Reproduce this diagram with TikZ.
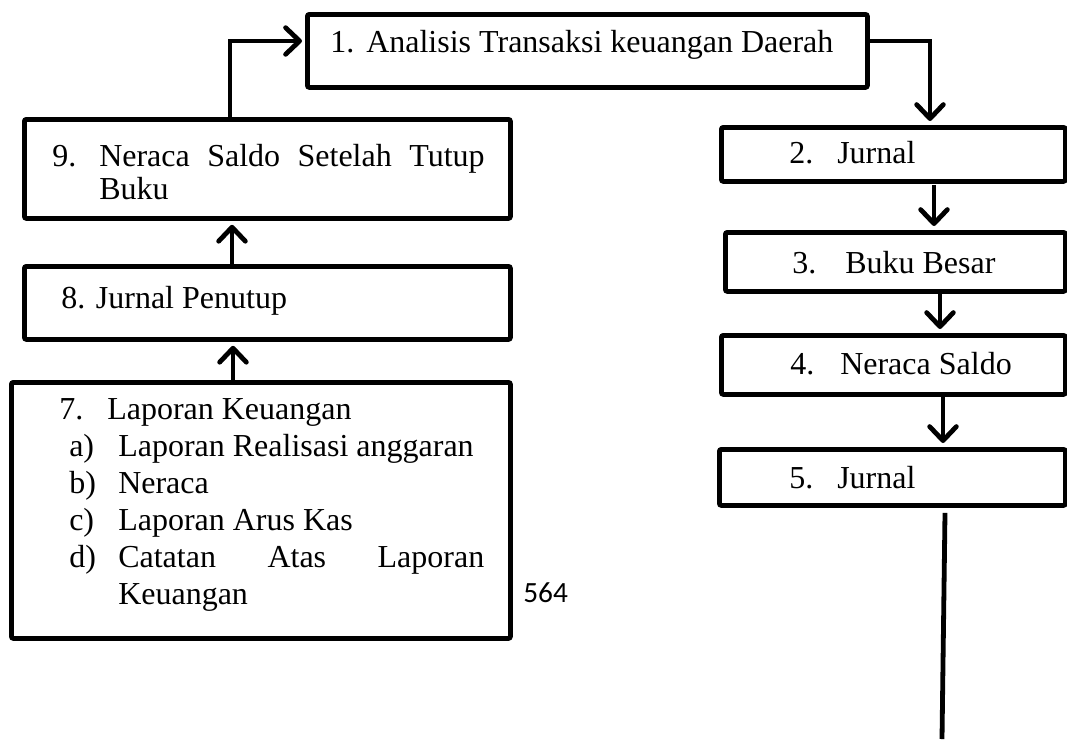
\documentclass[tikz,border=0pt]{standalone}
\usepackage{fontspec}
\setmainfont{Liberation Serif}
\newfontfamily\pagefont{Carlito}
\usetikzlibrary{arrows.meta,calc}
\begin{document}
\begin{tikzpicture}[x=0.75pt,y=-0.75pt,
  box/.style={draw=black, line width=3.6pt, rounded corners=1.5pt, inner sep=0pt, anchor=north west},
  conn/.style={draw=black, line width=3.6pt},
  arr/.style={conn, -{Straight Barb[length=10.5pt,width=20pt,line cap=round,line join=round]}},
  lbl/.style={inner sep=0pt, anchor=base west, font=\fontsize{24}{28}\selectfont},
]
\useasboundingbox (0,0) rectangle (1067,739);

% boxes
\node[box, minimum width=420pt, minimum height=54.75pt] (b1) at (305,12) {};
\node[box, minimum width=258pt, minimum height=40.5pt] (b2) at (719,125) {};
\node[box, minimum width=255pt, minimum height=44.25pt] (b3) at (723,230) {};
\node[box, minimum width=258pt, minimum height=44.25pt] (b4) at (719,333) {};
\node[box, minimum width=259.5pt, minimum height=42pt] (b5) at (717,447) {};
\node[box, minimum width=364.5pt, minimum height=74.25pt] (b9) at (22,117) {};
\node[box, minimum width=364.5pt, minimum height=54.75pt] (b8) at (22,264) {};
\node[box, minimum width=374.25pt, minimum height=192pt] (b7) at (9,380) {};

% texts
\node[lbl] (t1n) at (330,52) {1.};
\node[lbl] (t1) at (366,52) {Analisis Transaksi keuangan Daerah};
\node[lbl] (t2n) at (789,163) {2.};
\node[lbl] (t2) at (837,163) {Jurnal};
\node[lbl] (t3n) at (792,273) {3.};
\node[lbl] (t3) at (845,273) {Buku Besar};
\node[lbl] (t4n) at (790,374) {4.};
\node[lbl] (t4) at (840,374) {Neraca Saldo};
\node[lbl] (t5n) at (789,488) {5.};
\node[lbl] (t5) at (837,488) {Jurnal};
\node[lbl] (t9n) at (52,166) {9.};
\node[lbl] (t9a) at (99,166) {\makebox[289pt][s]{Neraca\hfill Saldo\hfill Setelah\hfill Tutup}};
\node[lbl] (t9b) at (99,199) {Buku};
\node[lbl] (t8) at (61,308) {8. Jurnal Penutup};
\node[lbl] (t7n) at (59,419) {7.};
\node[lbl] (t7) at (107,419) {Laporan Keuangan};
\node[lbl] (t7an) at (69,456) {a)};
\node[lbl] (t7a) at (118,456) {Laporan Realisasi anggaran};
\node[lbl] (t7bn) at (69,493) {b)};
\node[lbl] (t7b) at (118,493) {Neraca};
\node[lbl] (t7cn) at (69,530) {c)};
\node[lbl] (t7c) at (118,530) {Laporan Arus Kas};
\node[lbl] (t7dn) at (69,567) {d)};
\node[lbl] (t7d) at (118,567) {\makebox[274.5pt][s]{Catatan\hfill Atas\hfill Laporan}};
\node[lbl] (t7e) at (118,604) {Keuangan};
\node[lbl, font=\pagefont\fontsize{22}{26}\selectfont] (pg) at (523,602) {564};

% connectors
\draw[arr] ($(b9.north west)+(208,0)$) |- ($(b1.north west)+(-3,29)$);
\draw[arr] ($(b1.north east)+(0,29)$) -| ($(b2.north west)+(211,-4)$);
\draw[arr] ($(b2.south west)+(215,1)$) -- ($(b3.north west)+(211,-4)$);
\draw[arr] ($(b3.south west)+(217,-2)$) -- ($(b4.north west)+(221,-4)$);
\draw[arr] ($(b4.south west)+(224,0)$) -- ($(b5.north west)+(226,-4)$);
\coordinate (end) at (942,739);
\draw[conn] ($(b5.south west)+(228,5)$) -- (end);
\draw[arr] ($(b8.north west)+(210,0)$) -- ($(b9.south west)+(210,4)$);
\draw[arr] ($(b7.north west)+(224,0)$) -- ($(b8.south west)+(211,4)$);
\end{tikzpicture}
\end{document}
